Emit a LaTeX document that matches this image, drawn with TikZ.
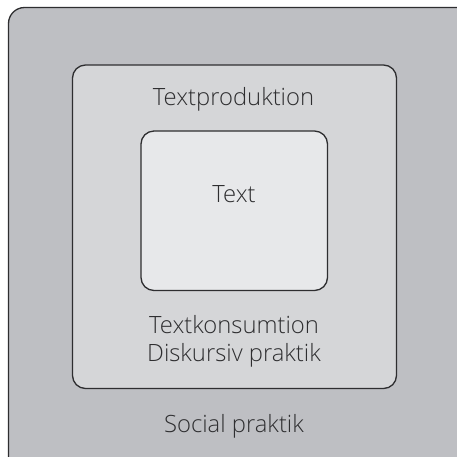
\documentclass[tikz,border=0pt]{standalone}
\usepackage{fontspec}
\setmainfont{Open Sans Light}
\definecolor{outerfill}{HTML}{BEBFC3}
\definecolor{midfill}{HTML}{D5D6D8}
\definecolor{innerfill}{HTML}{E7E8EA}
\definecolor{edge}{HTML}{2E2E30}
\definecolor{txt}{HTML}{2E2E30}
\begin{document}
\begin{tikzpicture}[x=1pt,y=-1pt,
  box/.style={draw=edge,line width=1.3pt,rounded corners=13pt},
  lbl/.style={text=txt,font=\fontsize{23.8}{28}\selectfont,inner sep=0pt,anchor=base,align=center}]
\useasboundingbox (0,0) rectangle (457,456);
\clip (0,0) rectangle (457,456);
\fill[white] (0,0) rectangle (457,456);
\filldraw[box,fill=outerfill,rounded corners=16pt] (8.5,7.5) rectangle (475,475);
\filldraw[box,fill=midfill] (72.5,65) rectangle (396.5,388.5);
\filldraw[box,fill=innerfill] (141,131) rectangle (327.5,290.5);
\node[lbl] (prod) at (233.5,105) {Textproduktion};
\node[lbl] (text) at (234,202) {Text};
\node[lbl] (kons) at (234,333) {Textkonsumtion};
\node[lbl] (disk) at (234,361) {Diskursiv praktik};
\node[lbl] (soc) at (234,432) {Social praktik};
\end{tikzpicture}
\end{document}
